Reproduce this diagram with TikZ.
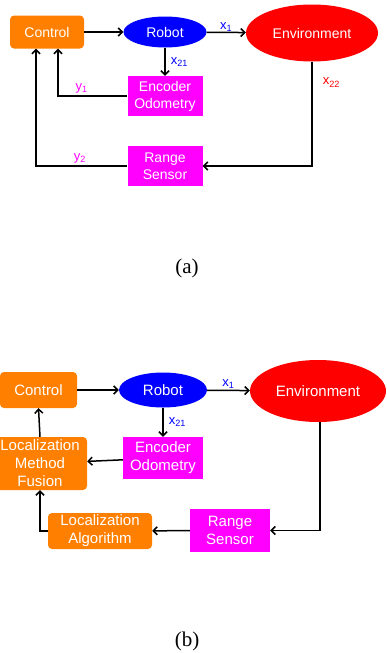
\documentclass[tikz,border=0pt]{standalone}
\usepackage{fontspec}
\setmainfont{Liberation Serif}
\setsansfont{Liberation Sans}
\usepackage{tikz}
\usetikzlibrary{arrows,arrows.meta,shapes}
\definecolor{boxorange}{RGB}{255,128,0}
\definecolor{boxpink}{RGB}{255,0,255}
\tikzstyle{block}=[rectangle,inner sep=0pt,text=white,align=center,font=\sffamily\fontsize{14}{17}\selectfont]
\tikzstyle{ctrlbox}=[block,fill=boxorange,rounded corners=4pt]
\tikzstyle{sensbox}=[block,fill=boxpink]
\tikzstyle{oval}=[block,ellipse]
\tikzstyle{arrow}=[draw,line width=1.5pt,-{Straight Barb[length=4pt,width=8pt]}]
\tikzstyle{sig}=[font=\sffamily\fontsize{13}{15}\selectfont,inner sep=2pt]
\tikzstyle{caption}=[font=\fontsize{21}{24}\selectfont]

\begin{document}
\begin{tikzpicture}[x=1pt,y=-1pt]
    \useasboundingbox (0,0) rectangle (386,653);
    % (a)
    \node[ctrlbox,minimum width=74pt,minimum height=33pt] (ctrlA) at (47,32) {Control};
    \node[oval,fill=blue,minimum width=83pt,minimum height=31pt] (robotA) at (165,32) {Robot};
    \node[oval,fill=red,minimum width=132pt,minimum height=57pt] (envA) at (312,33) {Environment};
    \node[sensbox,minimum width=75pt,minimum height=40pt] (encA) at (165,96) {Encoder\\Odometry};
    \node[sensbox,minimum width=75pt,minimum height=40pt] (rngA) at (165,166) {Range\\Sensor};
    \path[arrow] (ctrlA) -- (robotA);
    \path[arrow] (robotA) -- node[sig,above,text=blue,yshift=-2pt] {x\textsubscript{1}} (envA);
    \path[arrow] (robotA) -- node[sig,right,text=blue,pos=0.5,xshift=3pt] {x\textsubscript{21}} (encA);
    \path[arrow] (envA.south) |- node[sig,right,text=red,pos=0.1,xshift=8pt] {x\textsubscript{22}} (rngA.east);
    \path[arrow] (encA.west) -| node[sig,above,text=boxpink,pos=0.33] {y\textsubscript{1}} ([xshift=11pt]ctrlA.south);
    \path[arrow] (rngA.west) -| node[sig,above,text=boxpink,pos=0.26] {y\textsubscript{2}} ([xshift=-11pt]ctrlA.south);
    \node[caption] (capA) at (187,268) {(a)};
    % (b)
    \begin{scope}[block/.append style={font=\sffamily\fontsize{15}{18}\selectfont}]
    \node[ctrlbox,minimum width=77pt,minimum height=36pt] (ctrlB) at (38.5,390) {Control};
    \node[oval,fill=blue,minimum width=88pt,minimum height=35pt] (robotB) at (163,390) {Robot};
    \node[oval,fill=red,minimum width=136pt,minimum height=62pt] (envB) at (318,391) {Environment};
    \node[sensbox,minimum width=80pt,minimum height=42pt] (encB) at (163,458) {Encoder\\Odometry};
    \node[ctrlbox,minimum width=94pt,minimum height=53pt] (fusB) at (40,463.5) {Localization\\Method\\Fusion};
    \node[ctrlbox,minimum width=104pt,minimum height=36pt] (algB) at (100,531) {Localization\\Algorithm};
    \node[sensbox,minimum width=80pt,minimum height=43pt] (rngB) at (230,530.5) {Range\\Sensor};
    \end{scope}
    \path[arrow] (ctrlB) -- (robotB);
    \path[arrow] (robotB) -- node[sig,above,text=blue,yshift=-1pt] {x\textsubscript{1}} (envB);
    \path[arrow] (robotB) -- node[sig,right,text=blue,pos=0.5,xshift=3pt] {x\textsubscript{21}} (encB);
    \path[arrow] ([xshift=2pt]envB.south) |- (rngB.east);
    \path[arrow] (rngB) -- (algB);
    \path[arrow] (encB) -- (fusB);
    \path[arrow] (algB.west) -| (fusB.south);
    \path[arrow] (fusB.north) -- (ctrlB.south);
    \node[caption] (capB) at (187,641) {(b)};
\end{tikzpicture}
\end{document}
